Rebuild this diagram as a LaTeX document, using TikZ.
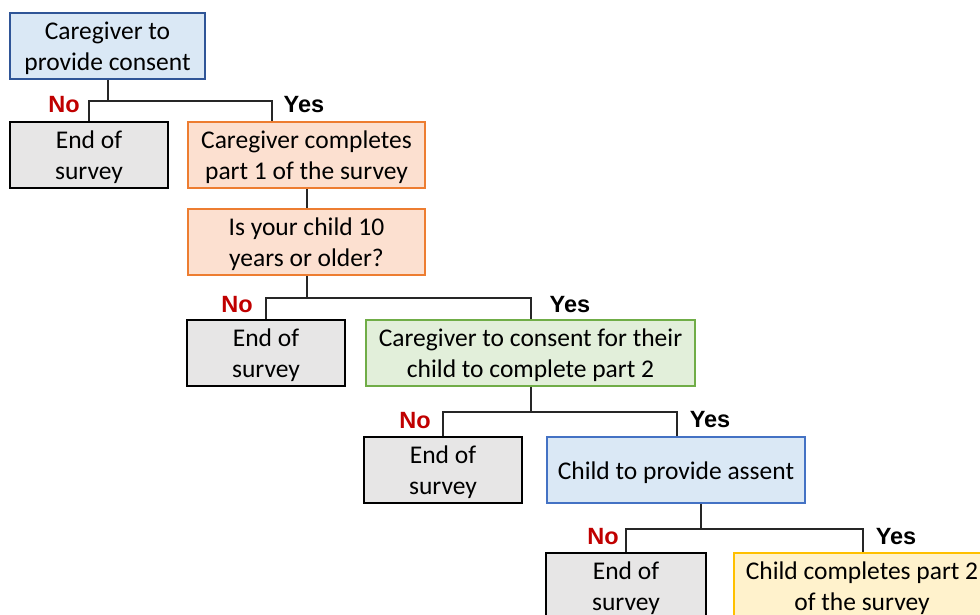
\documentclass[tikz,border=0pt]{standalone}
\usepackage{fontspec}
\setmainfont{Carlito}
\newfontfamily\labfont{Liberation Sans}
\usetikzlibrary{calc}
\definecolor{bluefill}{HTML}{DAE8F5}
\definecolor{blueedge}{HTML}{2F5597}
\definecolor{blueedgeb}{HTML}{4472C4}
\definecolor{grayfill}{HTML}{E7E6E6}
\definecolor{orfill}{HTML}{FCE0D0}
\definecolor{oredge}{HTML}{ED7D31}
\definecolor{grfill}{HTML}{E2EFDA}
\definecolor{gredge}{HTML}{70AD47}
\definecolor{yefill}{HTML}{FFF2CC}
\definecolor{yeedge}{HTML}{FFC000}
\definecolor{nored}{HTML}{C00000}
\definecolor{linec}{HTML}{262626}
\tikzset{
  box/.style={draw, rectangle, inner sep=0pt, minimum height=66},
  boxtext/.style={align=center, text=black, inner sep=0pt, yshift=-2.5pt,
    font=\fontsize{25.5}{31}\selectfont},
  endbox/.style={box, fill=grayfill, draw=black, line width=2pt},
  conn/.style={draw=linec, line width=2pt},
  nolab/.style={text=nored, font=\labfont\bfseries\fontsize{23.5}{26}\selectfont},
  yeslab/.style={text=black, font=\labfont\bfseries\fontsize{23.5}{26}\selectfont},
}
\begin{document}
\begin{tikzpicture}[x=1pt,y=-1pt]
\useasboundingbox (0,0) rectangle (980,615);
\clip (0,0) rectangle (980,615);
\node[box, fill=bluefill, draw=blueedge, line width=2pt, minimum width=195,
  label={[boxtext]center:Caregiver to\\provide consent}] (b1) at (107.5,46) {};
\node[endbox, minimum width=158,
  label={[boxtext]center:End of\\survey}] (e1) at (89,155) {};
\node[box, fill=orfill, draw=oredge, line width=1.5pt, minimum width=237,
  label={[boxtext]center:Caregiver completes\\part 1 of the survey}] (c1) at (306.5,155) {};
\node[box, fill=orfill, draw=oredge, line width=1.5pt, minimum width=237,
  label={[boxtext]center:Is your child 10\\years or older?}] (q1) at (306.5,242) {};
\node[endbox, minimum width=158,
  label={[boxtext]center:End of\\survey}] (e2) at (266,353) {};
\node[box, fill=grfill, draw=gredge, line width=1.5pt, minimum width=329,
  label={[boxtext]center:Caregiver to consent for their\\child to complete part 2}] (g1) at (530.5,353) {};
\node[endbox, minimum width=158,
  label={[boxtext]center:End of\\survey}] (e3) at (443,470) {};
\node[box, fill=bluefill, draw=blueedgeb, line width=1.5pt, minimum width=258,
  label={[boxtext]center:Child to provide assent}] (a1) at (676,470) {};
\node[endbox, minimum width=160,
  label={[boxtext]center:End of\\survey}] (e4) at (626,586) {};
\node[box, fill=yefill, draw=yeedge, line width=1.5pt, minimum width=256,
  label={[boxtext]center:Child completes part 2\\of the survey}] (y1) at (862,586) {};

% connectors
\draw[conn] (b1.south) -- ++(0,21) coordinate (j1);
\draw[conn] (e1.north) |- (j1) -| ([xshift=-34.5]c1.north);
\draw[conn] (c1.south) -- (q1.north);
\draw[conn] (q1.south) -- ++(0,22) coordinate (j2);
\draw[conn] (e2.north) |- (j2) -| (g1.north);
\draw[conn] (g1.south) -- ++(0,25) coordinate (j3);
\draw[conn] (e3.north) |- (j3) -| ([xshift=1]a1.north);
\draw[conn] ([xshift=25]a1.south) -- ++(0,25) coordinate (j4);
\draw[conn] (e4.north) |- (j4) -| ([xshift=1]y1.north);

% labels
\node[nolab] (n1) at (64,105) {No};
\node[yeslab] (y1l) at (304,105) {Yes};
\node[nolab] (n2) at (237,305) {No};
\node[yeslab] (y2l) at (570,305) {Yes};
\node[nolab] (n3) at (415,421) {No};
\node[yeslab] (y3l) at (710,420) {Yes};
\node[nolab] (n4) at (603,537) {No};
\node[yeslab] (y4l) at (896,537) {Yes};
\end{tikzpicture}
\end{document}
